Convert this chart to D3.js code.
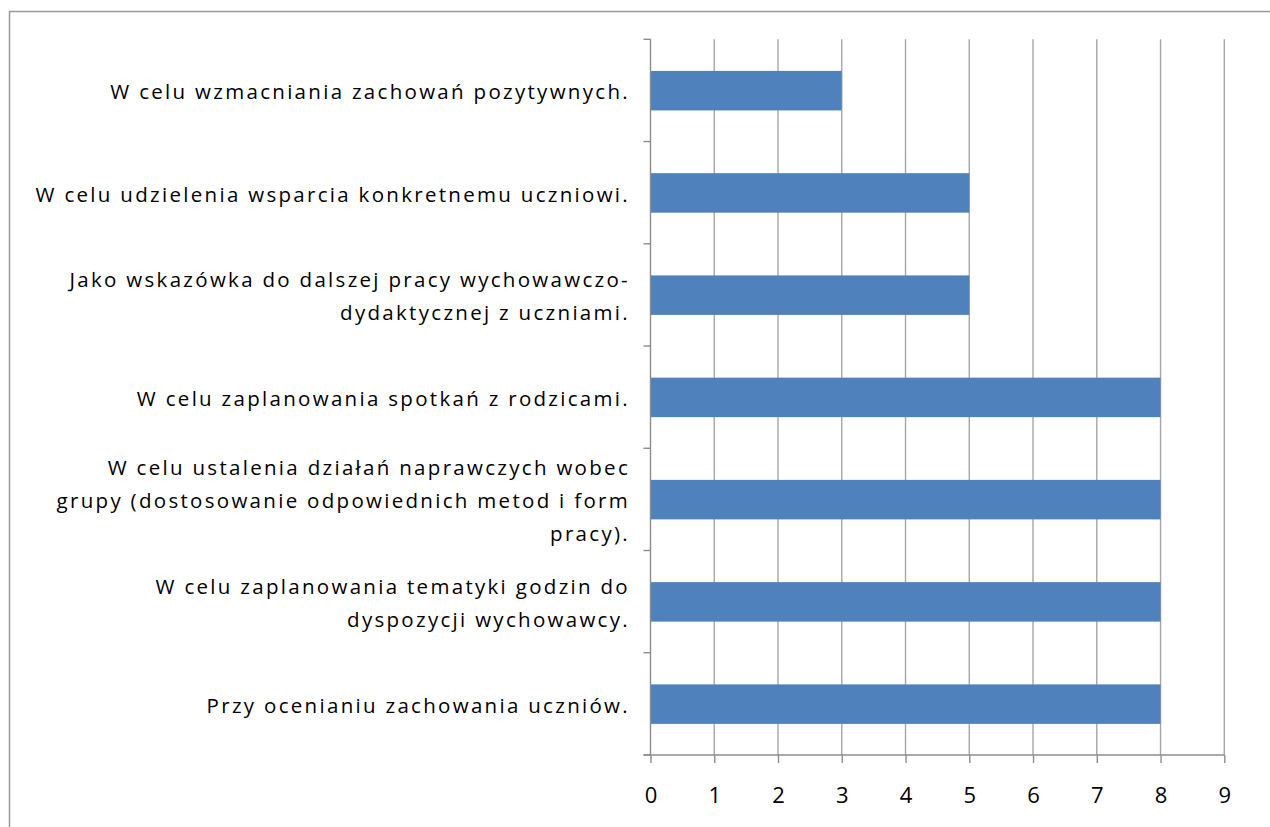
<!DOCTYPE html>
<html><head><meta charset="utf-8">
<script src="https://cdn.jsdelivr.net/npm/d3@7"></script>
<style>
html,body{margin:0;padding:0;background:#fff;}
svg text{font-family:"Open Sans",sans-serif;}
</style></head>
<body><svg id="c" width="1270" height="827"></svg>
<script>
const categories = [
  ["W celu wzmacniania zachowań pozytywnych."],
  ["W celu udzielenia wsparcia konkretnemu uczniowi."],
  ["Jako wskazówka do dalszej pracy wychowawczo-", "dydaktycznej z uczniami."],
  ["W celu zaplanowania spotkań z rodzicami."],
  ["W celu ustalenia działań naprawczych wobec", "grupy (dostosowanie odpowiednich metod i form", "pracy)."],
  ["W celu zaplanowania tematyki godzin do", "dyspozycji wychowawcy."],
  ["Przy ocenianiu zachowania uczniów."]
];
const values = [3, 5, 5, 8, 8, 8, 8];
const xTicks = [0,1,2,3,4,5,6,7,8,9];

(function(){
const svg = d3.select("#c");
svg.append("rect").attr("x",9.5).attr("y",11.5).attr("width",1290).attr("height",840)
  .attr("fill","none").attr("stroke","#999").attr("stroke-width",1.5);

const pL=650.5, pR=1224.3, pT=39.3, pB=755;
const x = d3.scaleLinear().domain([0,9]).range([pL,pR]);
const yb = d3.scaleBand().domain(d3.range(categories.length)).range([pT,pB]);

svg.append("g").selectAll("line").data(xTicks.slice(1)).join("line")
  .attr("x1",d=>x(d)).attr("x2",d=>x(d))
  .attr("y1",pT).attr("y2",pB)
  .attr("stroke","#a6a6a6").attr("stroke-width",1.4);

svg.append("g").selectAll("rect").data(values).join("rect")
  .attr("x",x(0)).attr("y",(d,i)=>yb(i)+yb.bandwidth()/2-19.5)
  .attr("width",d=>x(d)-x(0)).attr("height",39.5)
  .attr("fill","#4f81bd");

const xAxis = d3.axisBottom(x).tickValues(xTicks).tickSize(8).tickPadding(24).tickSizeOuter(0);
const gx = svg.append("g").attr("transform",`translate(0,${pB})`).call(xAxis);
gx.select(".domain").remove();
gx.append("line").attr("x1",pL-7).attr("x2",pR).attr("y1",0).attr("y2",0).attr("stroke","#8c8c8c").attr("stroke-width",1.4);
gx.selectAll(".tick line").attr("stroke","#8c8c8c").attr("stroke-width",1.4);
gx.selectAll(".tick text").attr("font-size",22).attr("fill","#000").attr("font-family","Open Sans, sans-serif");

const gy = svg.append("g");
gy.append("line").attr("x1",pL).attr("x2",pL).attr("y1",pT).attr("y2",pB).attr("stroke","#8c8c8c").attr("stroke-width",1.4);
gy.selectAll("line.t").data(d3.range(categories.length+1)).join("line").attr("class","t")
  .attr("x1",pL-7).attr("x2",pL)
  .attr("y1",d=>pT+d*yb.bandwidth()).attr("y2",d=>pT+d*yb.bandwidth())
  .attr("stroke","#8c8c8c").attr("stroke-width",1.4);

const lh = 33;
const lg = svg.append("g");
categories.forEach((lines,i)=>{
  const cy = yb(i)+yb.bandwidth()/2;
  const t = lg.append("text").attr("text-anchor","end").attr("font-size",20.5).attr("fill","#000")
    .attr("letter-spacing",2.3);
  lines.forEach((ln,j)=>{
    t.append("tspan").attr("x",630).attr("y",cy + (j-(lines.length-1)/2)*lh + 9).text(ln);
  });
});
})();
</script></body></html>
